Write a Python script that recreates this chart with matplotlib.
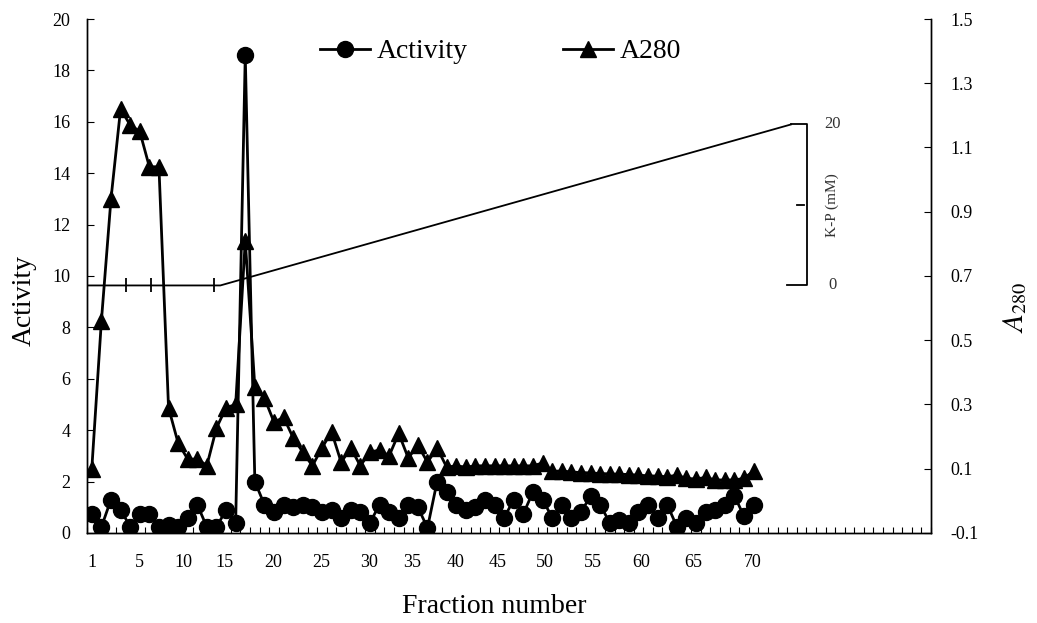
import numpy as np
import matplotlib.pyplot as plt

# serif look like the original (Times-ish)
plt.rcParams['font.family'] = ['Liberation Serif', 'DejaVu Serif']
plt.rcParams['mathtext.fontset'] = 'stix'

# data
fractions = np.arange(1, 71)
activity = [0.74, 0.23, 1.3, 0.9, 0.25, 0.74, 0.74, 0.23, 0.3, 0.23,
            0.6, 1.1, 0.23, 0.23, 0.9, 0.4, 18.6, 2.0, 1.1, 0.8,
            1.1, 1.0, 1.1, 1.0, 0.8, 0.9, 0.6, 0.9, 0.8, 0.4,
            1.1, 0.8, 0.6, 1.1, 1.0, 0.2, 2.0, 1.6, 1.1, 0.9,
            1.0, 1.3, 1.1, 0.6, 1.3, 0.75, 1.6, 1.3, 0.6, 1.1,
            0.6, 0.8, 1.45, 1.1, 0.4, 0.5, 0.4, 0.8, 1.1, 0.6,
            1.1, 0.25, 0.6, 0.4, 0.8, 0.9, 1.1, 1.45, 0.65, 1.1]
a280 = [0.10, 0.56, 0.94, 1.22, 1.17, 1.15, 1.04, 1.04, 0.29, 0.18,
        0.13, 0.13, 0.11, 0.227, 0.29, 0.30, 0.81, 0.355, 0.32, 0.245,
        0.26, 0.196, 0.152, 0.109, 0.165, 0.215, 0.12, 0.165, 0.109, 0.152,
        0.158, 0.14, 0.21, 0.133, 0.174, 0.12, 0.165, 0.105, 0.109, 0.105,
        0.109, 0.109, 0.109, 0.109, 0.109, 0.109, 0.109, 0.118, 0.092, 0.093,
        0.09, 0.088, 0.087, 0.085, 0.084, 0.083, 0.082, 0.08, 0.078, 0.077,
        0.075, 0.08, 0.07, 0.068, 0.073, 0.065, 0.065, 0.065, 0.07, 0.093]

xtick_labels = ['1', '5', '10', '15', '20', '25', '30', '35', '40', '45',
                '50', '55', '60', '65', '70']
xtick_pos = [1.05, 6.0, 10.57, 14.86, 19.94, 24.9, 29.9, 34.35, 38.9, 43.3,
             48.2, 53.2, 58.3, 63.7, 69.9]

# K-P gradient (mM) drawn on its own scale
grad_x = [0.5, 14.4, 73.9]
grad_mm = [0, 0, 20]
grad_marks_x = [4.6, 7.2, 13.7]

fig = plt.figure(figsize=(10.37, 6.23), dpi=100)
ax = fig.add_axes([0.0839, 0.1445, 0.8139, 0.825])
ax2 = ax.twinx()
ax3 = ax.twinx()

l1, = ax.plot(fractions, activity, color='black', lw=2, marker='o', ms=11.5,
              label='Activity')
l2, = ax2.plot(fractions, a280, color='black', lw=2, marker='^', ms=12,
               label='A280')

ax.set_xlim(0.5, 88.5)
ax.set_ylim(0, 20)
ax.set_yticks(np.arange(0, 21, 2))
ax2.set_ylim(-0.1, 1.5)
ax2.set_yticks(np.arange(-0.1, 1.51, 0.2))
ax2.set_yticklabels(['%.1f' % v for v in np.arange(-0.1, 1.51, 0.2)])

ax.set_xticks(xtick_pos)
ax.set_xticklabels(xtick_labels)
ax.set_xticks(np.arange(0.5, 89, 1), minor=True)
ax.tick_params(axis='x', which='major', length=0, pad=15, labelsize=13)
ax.tick_params(axis='x', which='minor', direction='in', length=4, width=0.8)
ax.tick_params(axis='y', direction='in', length=5, labelsize=13, pad=12)
ax2.tick_params(axis='y', direction='in', length=5, labelsize=13, pad=14)

for a in (ax, ax2):
    a.spines['top'].set_visible(False)
for s in ('left', 'bottom', 'right'):
    ax2.spines[s].set_linewidth(1.0)
    ax.spines[s].set_linewidth(1.0)

ax.set_xlabel('Fraction number', fontsize=20)
ax.xaxis.set_label_coords(0.483, -0.118)
ax.set_ylabel('Activity', fontsize=20)
ax.yaxis.set_label_coords(-0.060, 0.453)
ax2.set_ylabel(r'$\mathit{A}_{\mathit{280}}$', fontsize=21)
ax2.yaxis.set_label_coords(1.083, 0.44)

# gradient on third (hidden) axis
ax3.set_ylim(-30.75, 33.1)
ax3.axis('off')
ax3.plot(grad_x, grad_mm, color='black', lw=1.3)
ax3.plot(grad_marks_x, [0] * len(grad_marks_x), ls='none', marker='|',
         ms=10, mew=1.3, color='black')
ax3.plot([73.9, 75.6, 75.6, 73.5], [20, 20, 0, 0], color='black', lw=1.3)
ax3.plot([74.5, 75.3], [10, 10], color='black', lw=1.3)
ax3.text(78.2, 20, '20', fontsize=12, ha='center', va='center', color='#333333')
ax3.text(78.2, 0, '0', fontsize=12, ha='center', va='center', color='#333333')
ax3.text(78.2, 10, 'K-P (mM)', fontsize=11, ha='center', va='center',
         rotation=90, color='#333333')

ax3.legend([l1, l2], ['Activity', 'A280'], loc='upper center',
           bbox_to_anchor=(0.49, 1.01), ncol=2, frameon=False, fontsize=20,
           handlelength=1.8, handletextpad=0.25, columnspacing=3.4)

fig.savefig('out.png', dpi=100)
